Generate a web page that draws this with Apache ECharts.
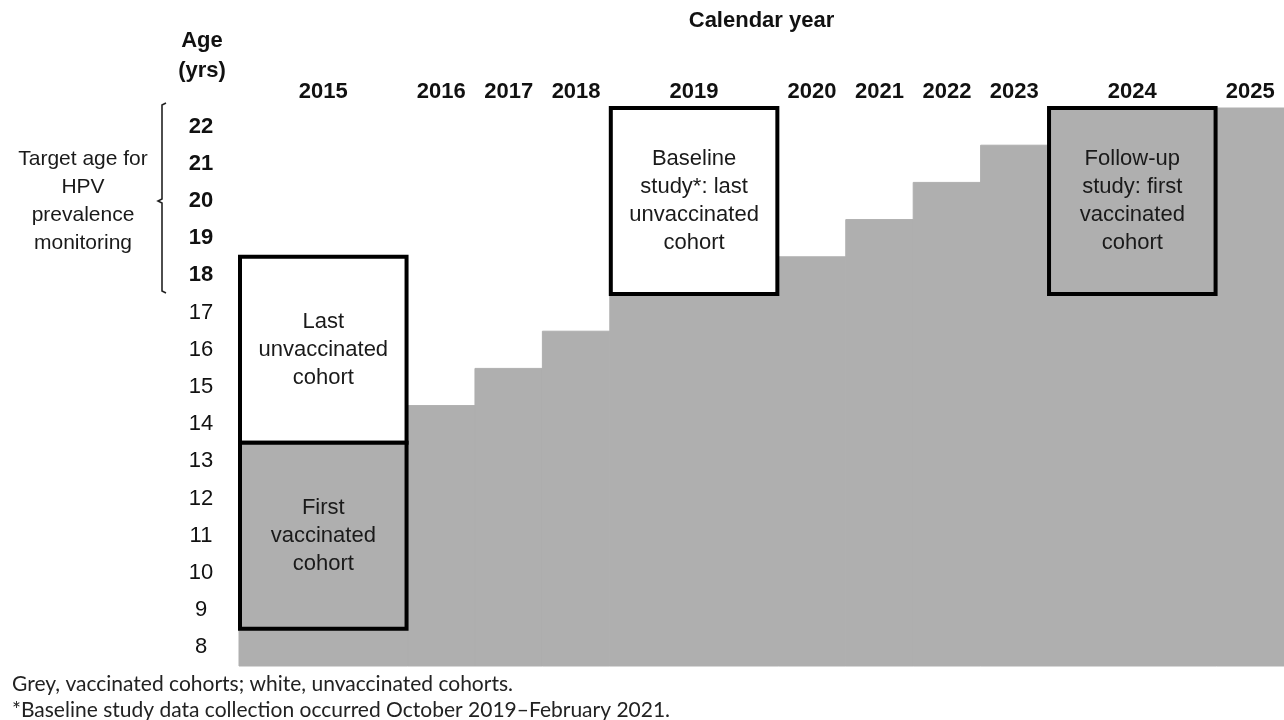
<!DOCTYPE html>
<html><head><meta charset="utf-8">
<script src="https://cdn.jsdelivr.net/npm/echarts@6/dist/echarts.min.js"></script>
<style>html,body{margin:0;padding:0;background:#fff}#c{width:1284px;height:720px}</style>
</head><body><div id="c"></div>
<script>
// ---- data ----
const years = [2015, 2016, 2017, 2018, 2019, 2020, 2021, 2022, 2023, 2024, 2025];
const yearWidths = [2.5, 1, 1, 1, 2.5, 1, 1, 1, 1, 2.5, 1];
const vaccinatedTopAge = [13, 14, 15, 16, 17, 18, 19, 20, 21, 22, 22];
const ages = [8, 9, 10, 11, 12, 13, 14, 15, 16, 17, 18, 19, 20, 21, 22];
const targetAges = [18, 19, 20, 21, 22];
const boxYears = [2015, 2015, 2019, 2024];
const boxFromAge = [14, 9, 18, 18];
const boxToAge = [18, 13, 22, 22];
const boxVaccinated = [0, 1, 0, 1];
const boxLabels = [
  'Last\nunvaccinated\ncohort',
  'First\nvaccinated\ncohort',
  'Baseline\nstudy*: last\nunvaccinated\ncohort',
  'Follow-up\nstudy: first\nvaccinated\ncohort'
];
const footnotes = [
  'Grey, vaccinated cohorts; white, unvaccinated cohorts.',
  '*Baseline study data collection occurred October 2019\u2013February 2021.'
];

// ---- derived ----
const GREY = '#afafaf';
const starts = [];
let acc = 0;
yearWidths.forEach(w => { starts.push(acc); acc += w; });
const xMax = acc;
const centers = starts.map((s, i) => s + yearWidths[i] / 2);
const ageMin = ages[0] - 0.5, ageMax = ages[ages.length - 1] + 0.5;
const FONT = '"Liberation Sans", Arial, sans-serif';

const greyData = years.map((y, i) => [starts[i], starts[i] + yearWidths[i], vaccinatedTopAge[i]]);
const boxData = boxYears.map((y, k) => {
  const i = years.indexOf(y);
  return [starts[i], starts[i] + yearWidths[i], boxFromAge[k] - 0.5, boxToAge[k] + 0.5, boxVaccinated[k], k];
});

const chart = echarts.init(document.getElementById('c'), null, {renderer: 'canvas'});
chart.setOption({
  animation: false,
  backgroundColor: '#fff',
  grid: {left: 239, right: 0, top: 108, bottom: 54, containLabel: false, outerBoundsMode: 'none'},
  xAxis: {
    type: 'value', position: 'top', min: 0, max: xMax,
    axisLine: {show: false}, axisTick: {show: false}, splitLine: {show: false},
    axisLabel: {
      customValues: centers, margin: 5,
      fontFamily: FONT, fontSize: 22, fontWeight: 'bold', color: '#111',
      formatter: v => { const i = centers.findIndex(c => Math.abs(c - v) < 1e-6); return i >= 0 ? String(years[i]) : ''; }
    },
    name: 'Calendar year', nameLocation: 'middle', nameGap: 76,
    nameTextStyle: {fontFamily: FONT, fontSize: 22, fontWeight: 'bold', color: '#111'}
  },
  yAxis: {
    type: 'value', min: ageMin, max: ageMax,
    axisLine: {show: false}, axisTick: {show: false}, splitLine: {show: false},
    axisLabel: {
      customValues: ages, margin: 38, align: 'center',
      formatter: v => (targetAges.indexOf(v) >= 0 ? '{b|' + v + '}' : '{n|' + v + '}'),
      rich: {
        b: {fontFamily: FONT, fontSize: 22, fontWeight: 'bold', color: '#111'},
        n: {fontFamily: FONT, fontSize: 22, color: '#111'}
      }
    }
  },
  series: [
    {
      type: 'custom', data: greyData, z: 1,
      renderItem: (params, api) => {
        const p0 = api.coord([api.value(0), ageMin]);
        const p1 = api.coord([api.value(1), api.value(2) + 0.5]);
        return {type: 'rect', shape: {x: p0[0], y: p1[1], width: p1[0] - p0[0], height: p0[1] - p1[1]},
          style: {fill: GREY, stroke: GREY, lineWidth: 1}};
      }
    },
    {
      type: 'custom', data: boxData, z: 3,
      renderItem: (params, api) => {
        const p0 = api.coord([api.value(0), api.value(2)]);
        const p1 = api.coord([api.value(1), api.value(3)]);
        const k = api.value(5);
        return {type: 'group', children: [
          {type: 'rect', shape: {x: p0[0] + 1, y: p1[1], width: p1[0] - p0[0] - 2, height: p0[1] - p1[1]},
            style: {fill: api.value(4) ? GREY : '#fff', stroke: '#000', lineWidth: 4}},
          {type: 'text', x: (p0[0] + p1[0]) / 2, y: (p0[1] + p1[1]) / 2,
            style: {text: boxLabels[k], align: 'center', verticalAlign: 'middle', fontFamily: FONT, fontSize: 22,
              lineHeight: 28, fill: '#1a1a1a'}}
        ]};
      }
    }
  ]
});

// annotations placed from axis coordinates
const pTop = chart.convertToPixel({gridIndex: 0}, [0, targetAges[targetAges.length - 1] + 0.5]);
const pBot = chart.convertToPixel({gridIndex: 0}, [0, targetAges[0] - 0.5]);
const pMid = chart.convertToPixel({gridIndex: 0}, [0, (targetAges[0] + targetAges[targetAges.length - 1]) / 2]);
const bx = pTop[0] - 77;
chart.setOption({
  graphic: [
    {type: 'polyline', shape: {points: [[bx + 4, pTop[1] - 5], [bx, pTop[1] - 3], [bx, pMid[1] - 2], [bx - 4, pMid[1]], [bx, pMid[1] + 2], [bx, pBot[1] - 3], [bx + 4, pBot[1] - 1]]},
      style: {stroke: '#222', lineWidth: 1.6, fill: null}},
    {type: 'text', x: bx - 79, y: pMid[1],
      style: {text: 'Target age for\nHPV\nprevalence\nmonitoring', align: 'center', verticalAlign: 'middle',
        fontFamily: FONT, fontSize: 21, lineHeight: 28, fill: '#1a1a1a'}},
    {type: 'text', x: pTop[0] - 37, y: 26,
      style: {text: 'Age\n(yrs)', align: 'center', verticalAlign: 'top', fontFamily: FONT, fontSize: 22,
        fontWeight: 'bold', lineHeight: 30, fill: '#111'}},
    {type: 'text', x: 12, y: 684,
      style: {text: footnotes[0], align: 'left', verticalAlign: 'middle', fontFamily: 'Lato, sans-serif', fontSize: 21, fill: '#222'}},
    {type: 'text', x: 12, y: 710,
      style: {text: footnotes[1], align: 'left', verticalAlign: 'middle', fontFamily: 'Lato, sans-serif', fontSize: 21, fill: '#222'}}
  ]
});
</script>
</body></html>
